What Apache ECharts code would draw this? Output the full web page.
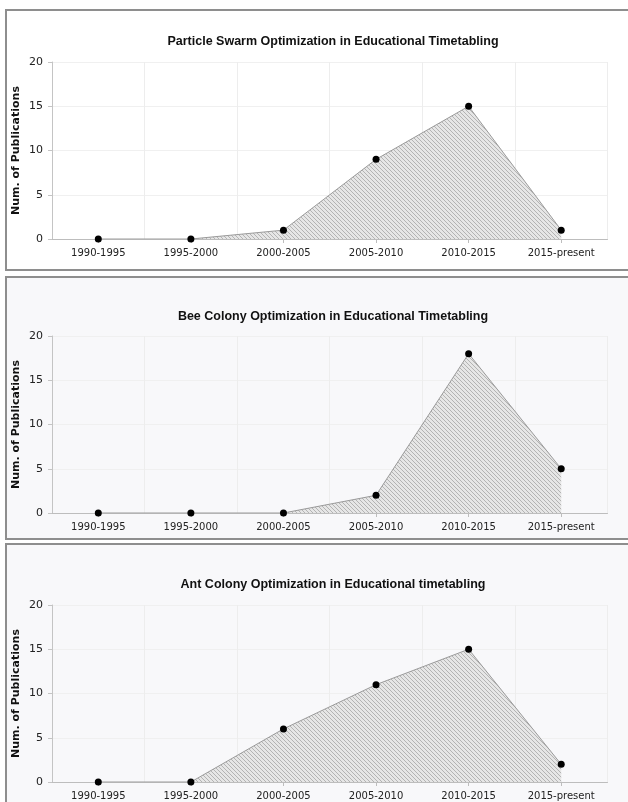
<!DOCTYPE html>
<html><head><meta charset="utf-8">
<style>html,body{margin:0;padding:0;background:#fff}#c{width:628px;height:802px}</style>
<script src="https://cdn.jsdelivr.net/npm/echarts@6/dist/echarts.min.js"></script>
</head><body><div id="c"></div>
<script>
const categories = ['1990-1995','1995-2000','2000-2005','2005-2010','2010-2015','2015-present'];
const yTicks = [0, 5, 10, 15, 20];
const titles = [
  'Particle Swarm Optimization in Educational Timetabling',
  'Bee Colony Optimization in Educational Timetabling',
  'Ant Colony Optimization in Educational timetabling'
];
const psoValues = [0, 0, 1, 9, 15, 1];
const beeValues = [0, 0, 0, 2, 18, 5];
const antValues = [0, 0, 6, 11, 15, 2];
const yAxisName = 'Num. of Publications';

const allValues = [psoValues, beeValues, antValues];

// layout (positions only)
const panels = [
  {y: 10, h: 260, bg: '#ffffff', titleY: 37, gridTop: 62},
  {y: 277, h: 262, bg: '#f8f8fa', titleY: 312, gridTop: 336},
  {y: 544, h: 270, bg: '#f8f8fa', titleY: 580, gridTop: 605}
];

// hatch pattern
const pc = document.createElement('canvas');
pc.width = 4; pc.height = 4;
const g = pc.getContext('2d');
g.fillStyle = '#e6e6e6'; g.fillRect(0,0,4,4);
g.strokeStyle = '#b3b3b3'; g.lineWidth = 1;
g.beginPath();
g.moveTo(-1,-1); g.lineTo(5,5);
g.moveTo(-1,3); g.lineTo(1,5);
g.moveTo(3,-1); g.lineTo(5,1);
g.stroke();

const chart = echarts.init(document.getElementById('c'), null, {renderer: 'canvas'});

const option = {
  animation: false,
  backgroundColor: '#fff',
  graphic: panels.map(p => ({
    type: 'rect', z: -10, silent: true,
    shape: {x: 6, y: p.y, width: 640, height: p.h},
    style: {fill: p.bg, stroke: '#8e8e8e', lineWidth: 2}
  })),
  title: panels.map((p, i) => ({
    text: titles[i], left: 328, top: p.titleY, textAlign: 'center', textVerticalAlign: 'middle',
    textStyle: {fontFamily: 'Liberation Sans', fontWeight: 'bold', fontSize: 12.5, color: '#111'}
  })),
  grid: panels.map(p => ({left: 52, right: 20.5, top: p.gridTop, height: 177, containLabel: false})),
  xAxis: panels.map((p, i) => ({
    type: 'category', gridIndex: i, data: categories, boundaryGap: true,
    axisLine: {lineStyle: {color: '#bdbdbd', width: 1}},
    axisTick: {show: true, alignWithLabel: true, length: 4, lineStyle: {color: '#bdbdbd'}},
    axisLabel: {fontFamily: 'DejaVu Sans', fontSize: 10, color: '#222', margin: 9, interval: 0},
    splitLine: {show: true, lineStyle: {color: '#ededed', width: 1}}
  })),
  yAxis: panels.map((p, i) => ({
    type: 'value', gridIndex: i, min: yTicks[0], max: yTicks[yTicks.length-1], interval: 5,
    name: yAxisName, nameLocation: 'middle', nameGap: 30, nameRotate: 90, nameMoveOverlap: false,
    nameTextStyle: {fontFamily: 'DejaVu Sans', fontWeight: 'bold', fontSize: 11, color: '#111'},
    axisLine: {show: true, lineStyle: {color: '#c4c4c4', width: 1}},
    axisTick: {show: true, length: 4, lineStyle: {color: '#c4c4c4'}},
    axisLabel: {fontFamily: 'DejaVu Sans', fontSize: 11, color: '#222', margin: 9},
    splitLine: {show: true, lineStyle: {color: '#f0f0f0', width: 1}}
  })),
  series: allValues.map((vals, i) => ({
    type: 'line', xAxisIndex: i, yAxisIndex: i, data: vals,
    symbol: 'circle', symbolSize: 7, showAllSymbol: true,
    itemStyle: {color: '#000'},
    lineStyle: {color: '#9a9a9a', width: 1},
    areaStyle: {color: {image: pc, repeat: 'repeat'}, opacity: 1},
    z: 3
  }))
};
chart.setOption(option);
</script></body></html>
